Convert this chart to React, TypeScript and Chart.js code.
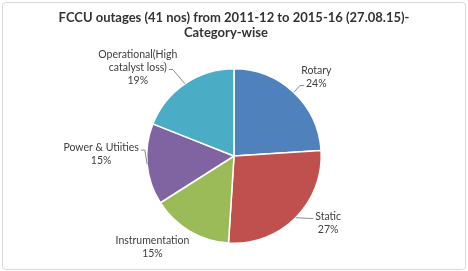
import React, { useEffect, useRef } from "react";
import { Chart, registerables } from "chart.js";

Chart.register(...registerables);

const categories = ["Rotary", "Static", "Instrumentation", "Power & Utiities", "Operational(High catalyst loss)"];
const shares = [24, 27, 15, 15, 19];
const labelLines = [["Rotary"], ["Static"], ["Instrumentation"], ["Power & Utiities"], ["Operational(High", "catalyst loss)"]];
const sliceColors = ["#4F81BD", "#C0504D", "#9BBB59", "#8064A2", "#4BACC6"];
const titleLines = ["FCCU outages (41 nos) from 2011-12 to 2015-16 (27.08.15)-", "Category-wise"];

// label placement relative to each slice: angle shift (deg), distance factor of radius, leader anchor
const labelPlacement = [
  { da: 3, k: 1.307, leader: { line: 1, side: "left" } },
  { da: -9.6, k: 1.324, leader: { line: 0, side: "left" } },
  { da: 11.1, k: 1.405, leader: null },
  { da: 6, k: 1.523, leader: { line: 0, side: "right" } },
  { da: -13.2, k: 1.498, leader: { line: 1, side: "right" } },
];

const FONT = "Lato, 'Open Sans', sans-serif";

const decorPlugin = {
  id: "decor",
  beforeDraw(chart: any) {
    const ctx = chart.ctx;
    ctx.save();
    ctx.fillStyle = "#ffffff";
    ctx.fillRect(0, 0, chart.width, chart.height);
    ctx.strokeStyle = "#d9d9d9";
    ctx.lineWidth = 1;
    ctx.beginPath();
    ctx.roundRect(2.5, 2.5, chart.width - 5, chart.height - 4, 3);
    ctx.stroke();
    // title
    ctx.fillStyle = "#333333";
    ctx.textAlign = "center";
    ctx.textBaseline = "middle";
    ctx.font = `bold 13px ${FONT}`;
    ctx.fillText(titleLines[0], 234, 18);
    ctx.fillText(titleLines[1], 226, 33);
    ctx.restore();
  },
  afterDatasetsDraw(chart: any) {
    const ctx = chart.ctx;
    const meta = chart.getDatasetMeta(0);
    ctx.save();
    ctx.font = `10.5px ${FONT}`;
    ctx.textAlign = "center";
    ctx.textBaseline = "middle";
    const lh = 13;
    meta.data.forEach((arc: any, i: number) => {
      const { x, y, startAngle, endAngle, outerRadius } = arc.getProps(["x", "y", "startAngle", "endAngle", "outerRadius"], true);
      const mid = (startAngle + endAngle) / 2;
      const p = labelPlacement[i];
      const a = mid + (p.da * Math.PI) / 180;
      const cx = x + Math.cos(a) * outerRadius * p.k;
      const cy = y + Math.sin(a) * outerRadius * p.k;
      const lines = [...labelLines[i], `${shares[i]}%`];
      const top = cy - ((lines.length - 1) * lh) / 2;
      ctx.fillStyle = "#404040";
      lines.forEach((t, j) => ctx.fillText(t, cx, top + j * lh));
      if (p.leader) {
        const t = lines[p.leader.line];
        const w = ctx.measureText(t).width;
        const sgn = p.leader.side === "left" ? -1 : 1;
        const ex = cx + sgn * (w / 2 + 2);
        const ey = top + p.leader.line * lh + 2;
        const sx = x + Math.cos(mid) * outerRadius;
        const sy = y + Math.sin(mid) * outerRadius;
        ctx.strokeStyle = "#8c8c8c";
        ctx.lineWidth = 1;
        ctx.beginPath();
        ctx.moveTo(sx, sy);
        ctx.lineTo(ex + sgn * 4, ey);
        ctx.lineTo(ex, ey);
        ctx.stroke();
      }
    });
    ctx.restore();
  },
};

export default function App() {
  const ref = useRef<HTMLCanvasElement>(null);
  useEffect(() => {
    document.body.style.margin = "0";
    const chart = new Chart(ref.current!, {
      type: "pie",
      data: {
        labels: categories,
        datasets: [
          {
            data: shares,
            backgroundColor: sliceColors,
            borderColor: "#ffffff",
            borderWidth: 1.5,
          },
        ],
      },
      options: {
        animation: false,
        responsive: false,
        rotation: 0,
        layout: { padding: { top: 68, bottom: 27, left: 20, right: 20 } },
        plugins: { legend: { display: false }, tooltip: { enabled: false }, title: { display: false } },
      },
      plugins: [decorPlugin],
    });
    return () => chart.destroy();
  }, []);
  return (
    <div style={{ width: 468, height: 271 }}>
      <canvas ref={ref} width={468} height={271} />
    </div>
  );
}
